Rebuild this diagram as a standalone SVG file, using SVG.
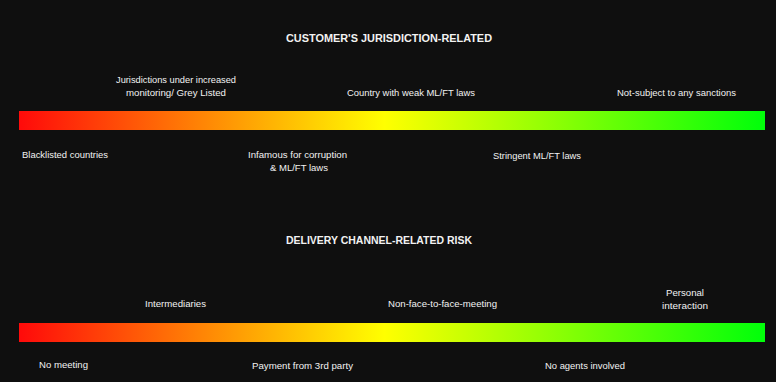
<svg xmlns="http://www.w3.org/2000/svg" width="776" height="382" viewBox="0 0 776 382">
<defs>
<linearGradient id="risk" x1="0" y1="0" x2="1" y2="0">
<stop offset="0" stop-color="#ff0a0a"/>
<stop offset="0.49" stop-color="#ffff00"/>
<stop offset="1" stop-color="#00ff0a"/>
</linearGradient>
<style>
.t{font-family:"Liberation Sans Narrow","Liberation Sans",Arial,sans-serif;font-size:9px;fill:#f2f2f2;text-anchor:middle}
.h{font-family:"Liberation Sans Narrow","Liberation Sans",Arial,sans-serif;font-size:11px;font-weight:bold;fill:#f2f2f2;text-anchor:middle}
.bar{fill:url(#risk)}
</style>
</defs>
<rect width="776" height="382" fill="#0f0f0f"/>
<g id="jurisdiction">
<text class="h" x="389" y="42" textLength="206" lengthAdjust="spacingAndGlyphs">CUSTOMER'S JURISDICTION-RELATED</text>
<rect class="bar" x="19" y="111" width="746" height="19"/>
<g id="j1"><text class="t" x="176" y="83" textLength="120" lengthAdjust="spacingAndGlyphs">Jurisdictions under increased</text><text class="t" x="176" y="96" textLength="100" lengthAdjust="spacingAndGlyphs">monitoring/ Grey Listed</text></g>
<g id="j2"><text class="t" x="411" y="96" textLength="128" lengthAdjust="spacingAndGlyphs">Country with weak ML/FT laws</text></g>
<g id="j3"><text class="t" x="676.5" y="96" textLength="119" lengthAdjust="spacingAndGlyphs">Not-subject to any sanctions</text></g>
<g id="j4"><text class="t" x="65" y="158" textLength="86" lengthAdjust="spacingAndGlyphs">Blacklisted countries</text></g>
<g id="j5"><text class="t" x="297.5" y="158" textLength="99" lengthAdjust="spacingAndGlyphs">Infamous for corruption</text><text class="t" x="299" y="171" textLength="58" lengthAdjust="spacingAndGlyphs">&amp; ML/FT laws</text></g>
<g id="j6"><text class="t" x="537" y="159" textLength="88" lengthAdjust="spacingAndGlyphs">Stringent ML/FT laws</text></g>
</g>
<g id="delivery">
<text class="h" x="379" y="244" textLength="186" lengthAdjust="spacingAndGlyphs">DELIVERY CHANNEL-RELATED RISK</text>
<rect class="bar" x="19" y="323" width="746" height="19"/>
<g id="d1"><text class="t" x="175.5" y="307" textLength="61" lengthAdjust="spacingAndGlyphs">Intermediaries</text></g>
<g id="d2"><text class="t" x="442.5" y="307" textLength="109" lengthAdjust="spacingAndGlyphs">Non-face-to-face-meeting</text></g>
<g id="d3"><text class="t" x="685" y="296" textLength="38" lengthAdjust="spacingAndGlyphs">Personal</text><text class="t" x="685" y="309" textLength="46" lengthAdjust="spacingAndGlyphs">interaction</text></g>
<g id="d4"><text class="t" x="63.5" y="368" textLength="49" lengthAdjust="spacingAndGlyphs">No meeting</text></g>
<g id="d5"><text class="t" x="302.5" y="369" textLength="101" lengthAdjust="spacingAndGlyphs">Payment from 3rd party</text></g>
<g id="d6"><text class="t" x="585" y="369" textLength="80" lengthAdjust="spacingAndGlyphs">No agents involved</text></g>
</g>
<g id="connectors"/>
</svg>
